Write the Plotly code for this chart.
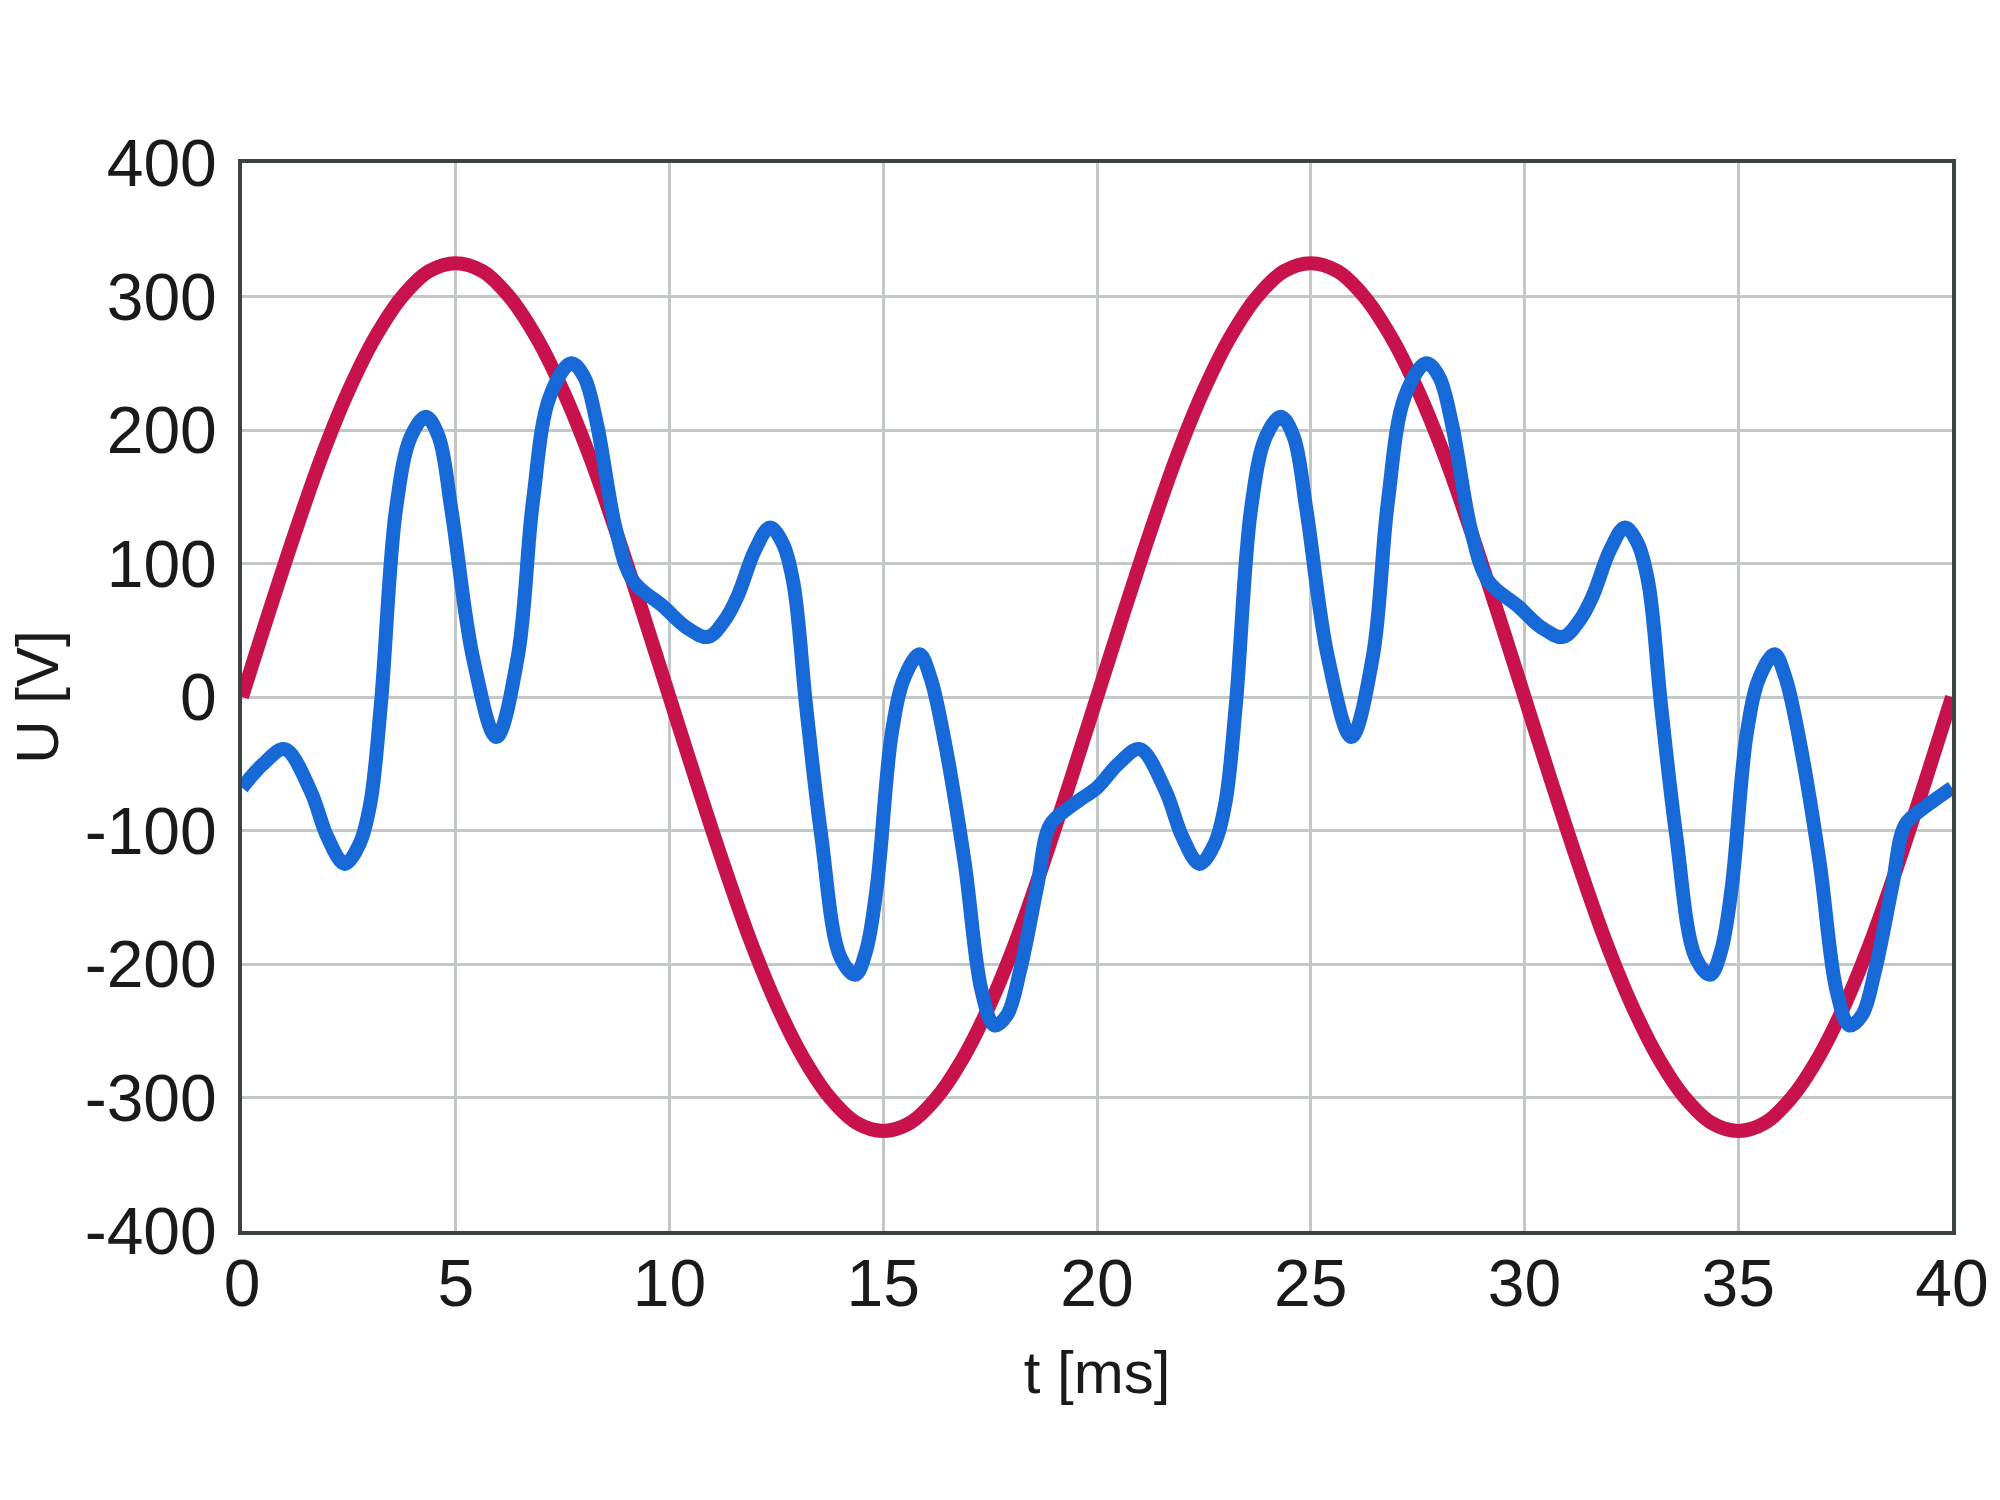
import plotly.graph_objects as go

# Mains voltage (sine)
t_mains = [0, 0.625, 1.25, 1.875, 2.5, 3.125, 3.75, 4.375, 5, 5.625, 6.25, 6.875, 7.5, 8.125, 8.75, 9.375,
           10, 10.625, 11.25, 11.875, 12.5, 13.125, 13.75, 14.375, 15, 15.625, 16.25, 16.875, 17.5, 18.125, 18.75, 19.375,
           20, 20.625, 21.25, 21.875, 22.5, 23.125, 23.75, 24.375, 25, 25.625, 26.25, 26.875, 27.5, 28.125, 28.75, 29.375,
           30, 30.625, 31.25, 31.875, 32.5, 33.125, 33.75, 34.375, 35, 35.625, 36.25, 36.875, 37.5, 38.125, 38.75, 39.375, 40]
u_mains = [0, 63, 124, 181, 230, 270, 300, 319, 325, 319, 300, 270, 230, 181, 124, 63,
           0, -63, -124, -181, -230, -270, -300, -319, -325, -319, -300, -270, -230, -181, -124, -63,
           0, 63, 124, 181, 230, 270, 300, 319, 325, 319, 300, 270, 230, 181, 124, 63,
           0, -63, -124, -181, -230, -270, -300, -319, -325, -319, -300, -270, -230, -181, -124, -63, 0]

# Distorted voltage
t_dist = [0, 0.5, 1.0, 1.6, 2.0, 2.4, 2.75, 3.0, 3.25, 3.6, 3.95, 4.3, 4.6, 4.9, 5.4, 5.95, 6.45, 6.8,
          7.2, 7.7, 8.0, 8.3, 8.75, 9.15, 9.85, 10.4, 10.9, 11.3, 11.6, 12.0, 12.35, 12.65, 12.9, 13.2,
          13.55, 14.0, 14.35, 14.6, 14.85, 15.2, 15.5, 15.85, 16.1, 16.4, 16.9, 17.3, 17.6, 17.9, 18.2,
          18.6, 18.9, 19.3, 19.6,
          20, 20.5, 21.0, 21.6, 22.0, 22.4, 22.75, 23.0, 23.25, 23.6, 23.95, 24.3, 24.6, 24.9, 25.4, 25.95,
          26.45, 26.8, 27.2, 27.7, 28.0, 28.3, 28.75, 29.15, 29.85, 30.4, 30.9, 31.3, 31.6, 32.0, 32.35,
          32.65, 32.9, 33.2, 33.55, 34.0, 34.35, 34.6, 34.85, 35.2, 35.5, 35.85, 36.1, 36.4, 36.9, 37.3,
          37.6, 37.9, 38.2, 38.6, 38.9, 39.3, 39.6, 40]
u_dist = [-68, -50, -39, -70, -105, -125, -110, -80, -5, 140, 195, 210, 195, 140, 30, -30, 30, 145,
          225, 250, 240, 205, 125, 87, 68, 52, 45, 58, 76, 110, 127, 115, 85, -8,
          -104, -195, -208, -190, -142, -27, 15, 32, 15, -27, -123, -220, -246, -238, -205,
          -142, -96, -84, -77,
          -68, -50, -39, -70, -105, -125, -110, -80, -5, 140, 195, 210, 195, 140, 30, -30,
          30, 145, 225, 250, 240, 205, 125, 87, 68, 52, 45, 58, 76, 110, 127,
          115, 85, -8, -104, -195, -208, -190, -142, -27, 15, 32, 15, -27, -123, -220,
          -246, -238, -205, -142, -96, -84, -77, -68]

x_ticks = [0, 5, 10, 15, 20, 25, 30, 35, 40]
y_ticks = [-400, -300, -200, -100, 0, 100, 200, 300, 400]

RED = "#c8124c"
BLUE = "#1769d8"
GRID = "#c3c8c7"
FRAME = "#3c4142"
FONT = "Liberation Sans, Arial, Helvetica, sans-serif"

fig = go.Figure()
fig.add_trace(go.Scatter(x=t_mains, y=u_mains, mode="lines",
                         line=dict(color=RED, width=14, shape="spline", smoothing=1.0, simplify=False),
                         showlegend=False, hoverinfo="skip"))
fig.add_trace(go.Scatter(x=t_dist, y=u_dist, mode="lines",
                         line=dict(color=BLUE, width=14, shape="spline", smoothing=1.0, simplify=False),
                         showlegend=False, hoverinfo="skip"))

fig.update_layout(
    width=2000, height=1500,
    margin=dict(l=242, r=48, t=163, b=269, autoexpand=False),
    paper_bgcolor="white", plot_bgcolor="white",
    font=dict(family=FONT, size=66, color="#1a1a1a"),
    showlegend=False,
)
fig.update_xaxes(
    range=[0, 40], tickvals=x_ticks, ticktext=[str(v) for v in x_ticks],
    showgrid=True, gridcolor=GRID, gridwidth=3,
    showline=True, linecolor=FRAME, linewidth=4, mirror=True,
    ticks="", zeroline=False, ticklabelstandoff=-8,
    title=dict(text="t [ms]", font=dict(size=60), standoff=33),
    automargin=False,
)
fig.update_yaxes(
    range=[-400, 400], tickvals=y_ticks, ticktext=[str(v) for v in y_ticks],
    showgrid=True, gridcolor=GRID, gridwidth=3,
    showline=True, linecolor=FRAME, linewidth=4, mirror=True,
    ticks="", zeroline=False, ticklabelstandoff=8,
    title=dict(text="U [V]", font=dict(size=60), standoff=8),
    automargin=False,
)

fig.write_html("out.html")
